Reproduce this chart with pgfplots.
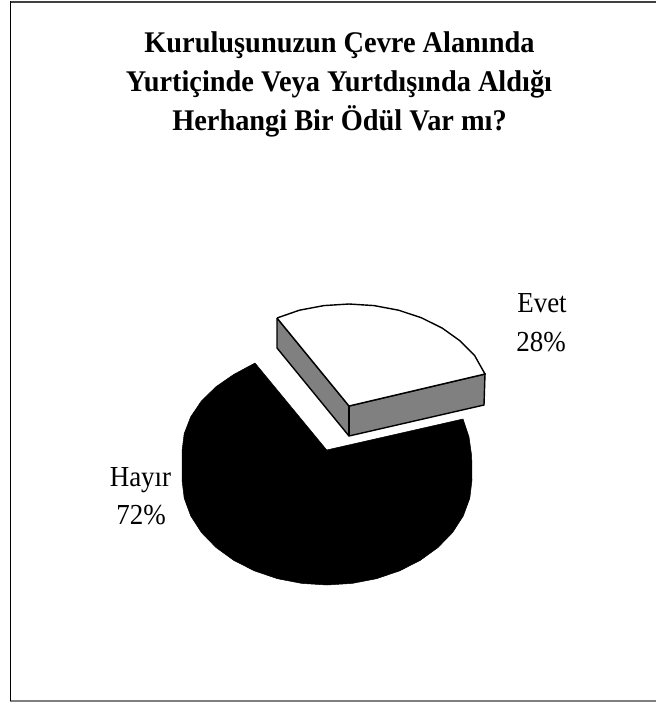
\documentclass[border=0pt]{standalone}
\usepackage{pgfplots}
\pgfplotsset{compat=1.18}
\usepackage{fontspec}
\setmainfont{Liberation Serif}
\newfontfamily\chartfont[FakeStretch=0.945]{Liberation Serif}
\newfontfamily\labelfont[FakeStretch=0.93]{Liberation Serif}
\begin{document}
\begin{tikzpicture}
\begin{axis}[scale only axis,width=656pt,height=702pt,xmin=0,xmax=656,ymin=0,ymax=702,y dir=reverse,axis lines=none,clip=true]
\path[use as bounding box] (rel axis cs:0,0) rectangle (rel axis cs:1,1);
\addplot[draw=black!75,line width=1.8pt] coordinates {(10,1.8)(656,1.8)};
\addplot[draw=black!50,line width=1.5pt] coordinates {(10,701)(656,701)};
\addplot[draw=black,line width=1.5pt] coordinates {(10.5,1)(10.5,701)};
\addplot[fill=black,draw=black,line width=0.5pt] coordinates {(255,363)(233.8,374.4)(216,386.7)(201.4,401)(190.7,416.8)(184.2,433.6)(182,451)(182,480)(184.2,498.2)(190.7,515.9)(201.4,532.5)(216,547.5)(233.8,560.4)(254.5,570.9)(277.4,578.7)(301.8,583.4)(327,585)(352.2,583.4)(376.6,578.7)(399.5,570.9)(420.2,560.4)(438,547.5)(452.6,532.5)(463.3,515.9)(469.8,498.2)(472,480)(471.7,456)(469,437)(463,419)(326.7,450)(255,363)};
\addplot[fill=black!50,draw=black,line width=1.4pt] coordinates {(277,318)(277,348)(349,436)(484,405)(485,374)(349,406)(277,318)};
\addplot[draw=black,line width=1.4pt] coordinates {(349,406)(349,436)};
\addplot[fill=white,draw=black,line width=1.4pt] coordinates {(277,318)(299.4,310.2)(323.8,305.6)(349,304)(374.2,305.6)(398.6,310.2)(421.5,317.8)(442.2,328.1)(460,340.8)(474.6,355.5)(485,374)(349,406)(277,318)};
\node[anchor=base,font=\fontsize{30}{36}\chartfont\bfseries] at (axis cs:339.5,52) {Kuruluşunuzun Çevre Alanında};
\node[anchor=base,font=\fontsize{30}{36}\chartfont\bfseries] at (axis cs:339,91) {Yurtiçinde Veya Yurtdışında Aldığı};
\node[anchor=base,font=\fontsize{30}{36}\chartfont\bfseries] at (axis cs:339.5,130) {Herhangi Bir Ödül Var mı?};
\node[anchor=base,font=\fontsize{29}{36}\labelfont] at (axis cs:542,312) {Evet};
\node[anchor=base,font=\fontsize{29}{36}\labelfont] at (axis cs:541,351) {28\%};
\node[anchor=base,font=\fontsize{29}{36}\labelfont] at (axis cs:140.5,486) {Hayır};
\node[anchor=base,font=\fontsize{29}{36}\labelfont] at (axis cs:141,524) {72\%};
\end{axis}
\end{tikzpicture}
\end{document}
